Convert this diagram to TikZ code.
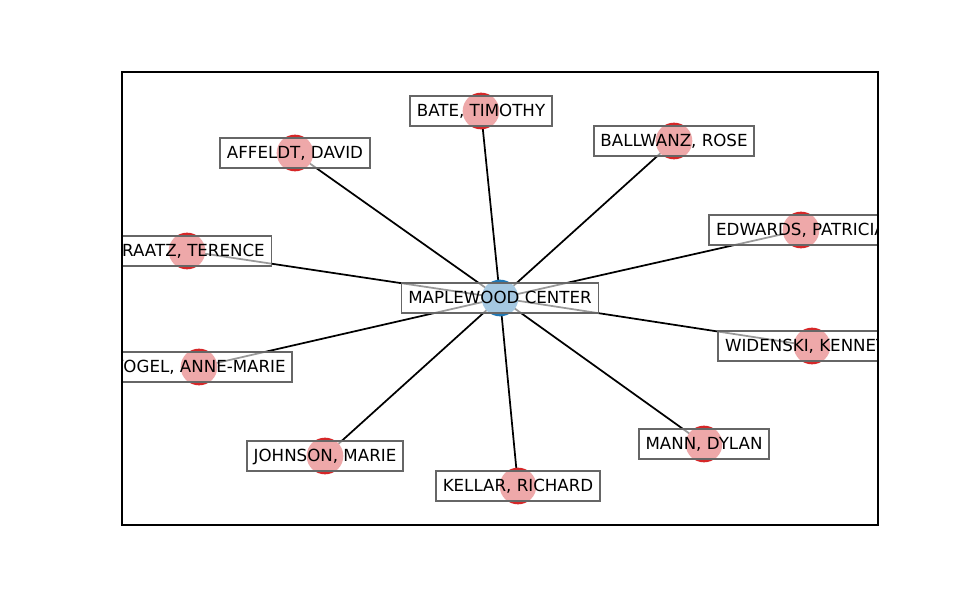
\documentclass[tikz,border=0pt]{standalone}
\usepackage{fontspec}
\setmainfont{DejaVu Sans}
\usetikzlibrary{backgrounds}
\definecolor{mplred}{HTML}{D62728}
\definecolor{mplblue}{HTML}{1F77B4}
\definecolor{boxedge}{RGB}{102,102,102}
\tikzset{
  leaf/.style={circle, fill=mplred, draw=none, minimum size=27.5pt, inner sep=0pt},
  hub/.style={circle, fill=mplblue, draw=none, minimum size=27.5pt, inner sep=0pt},
  lbl/.style={rectangle, draw=boxedge, fill=white, fill opacity=0.6, text opacity=1,
    line width=1.4pt, font=\fontsize{12.5}{15}\selectfont, text height=10.25pt, text depth=2.25pt,
    inner xsep=5.1pt, inner ysep=5.3pt},
  link/.style={draw=black, line width=1.3pt},
}
\begin{document}
\begin{tikzpicture}[x=0.75pt, y=-0.75pt]
\useasboundingbox (0,0) rectangle (975,600);
\begin{scope}
\clip (122,72) rectangle (878,525);
\node[hub]  (c)  at (500,298) {};
\node[leaf] (n1) at (481,111) {};
\node[leaf] (n2) at (674,141) {};
\node[leaf] (n3) at (295,153) {};
\node[leaf] (n4) at (801,230) {};
\node[leaf] (n5) at (187,251) {};
\node[leaf] (n6) at (812,346) {};
\node[leaf] (n7) at (199,367) {};
\node[leaf] (n8) at (325,456) {};
\node[leaf] (n9) at (518,486) {};
\node[leaf] (n10) at (704,444) {};
\begin{scope}[on background layer]
\fill[white] (0,0) rectangle (975,600);
\foreach \n in {n1,n2,n3,n4,n5,n6,n7,n8,n9,n10} {\draw[link] (c.center) -- (\n.center);}
\end{scope}
\node[lbl] (lc)  at (c)  {MAPLEWOOD CENTER};
\node[lbl] (l1)  at (n1) {BATE, TIMOTHY};
\node[lbl] (l2)  at (n2) {BALLWANZ, ROSE};
\node[lbl] (l3)  at (n3) {AFFELDT, DAVID};
\node[lbl] (l4)  at (n4) {EDWARDS, PATRICIA};
\node[lbl] (l5)  at (n5) {GRAATZ, TERENCE};
\node[lbl] (l6)  at (n6) {WIDENSKI, KENNETH};
\node[lbl] (l7)  at (n7) {VOGEL, ANNE-MARIE};
\node[lbl] (l8)  at (n8) {JOHNSON, MARIE};
\node[lbl] (l9)  at (n9) {KELLAR, RICHARD};
\node[lbl] (l10) at (n10) {MANN, DYLAN};
\end{scope}
\draw[line width=0.9pt] (122,72) rectangle (878,525);
\end{tikzpicture}
\end{document}
